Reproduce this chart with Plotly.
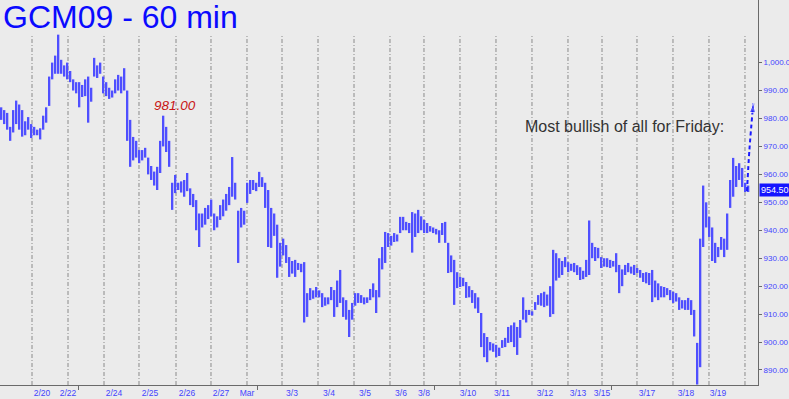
import numpy as np
import plotly.graph_objects as go

# ---- data: 60-minute bars (high / low) ----
highs = [
    984, 983, 982, 977, 983, 986.4, 985, 983, 979, 980.5, 978, 977,
    976, 976.5, 981, 984, 995, 1000, 1002.5, 1010, 1001, 999, 1000, 997,
    994, 993, 993, 992, 994, 995, 991, 1001.7, 999, 1000, 995, 993,
    991, 990, 994, 995.6, 995, 998, 990, 979.5, 973.4, 972, 968.7, 968.7,
    969.5, 966, 963, 961, 962.7, 972, 981, 977, 972, 957, 959.8, 957,
    957.5, 958, 960.5, 955, 953, 950.8, 946, 946, 948, 949, 951, 946,
    945, 949, 951, 953, 955.5, 966.2, 957, 947, 948, 947, 957, 958,
    958, 957, 960.9, 959, 957, 954.4, 948, 946, 942, 935.5, 937, 934.7,
    930.4, 929, 929.4, 928.3, 928, 928.6, 917.5, 919.3, 918.5, 919.7, 918.5, 917.5,
    916, 916, 919.7, 918.6, 922, 925.8, 916, 915, 911.5, 914, 917.5, 917.5,
    916.8, 916, 916, 919, 921, 918.6, 930, 934, 939.4, 939, 938, 939,
    938.5, 944.8, 944.8, 943, 942.6, 946.5, 946, 947.3, 945, 943.7, 942.6, 941.5,
    941, 940.5, 940, 942.6, 943, 935.5, 931, 929.4, 925, 923.3, 923, 921.5,
    920, 918.6, 917.5, 916, 910.4, 903.2, 901.8, 900, 899.5, 899, 898, 900.7,
    901.5, 905.4, 906, 907, 905.4, 907.9, 916, 911.5, 911.5, 911, 914.3, 916.8,
    917.5, 918, 917, 920, 933, 931.8, 930, 929, 930.4, 928.6, 928, 928.3,
    927.5, 926.8, 925.5, 929.4, 943.5, 935.5, 934, 933.7, 930.4, 930, 930, 929.4,
    929, 931.8, 927.6, 926, 927.6, 928.3, 927, 927.6, 926.5, 925.8, 924.7, 925,
    924.7, 925.8, 922, 921, 920, 919.7, 919.3, 918.6, 918, 917.5, 916, 915,
    915, 915.8, 915, 911.5, 899.7, 937, 956, 950, 944.8, 941, 935.5, 934,
    937.6, 937, 946, 958, 965.9, 963, 964, 962.3, 957, 956,
]
lows = [
    979.5, 978, 976, 972, 975, 978, 976, 973.5, 974, 976, 973, 974,
    974, 972.5, 976, 978.5, 984.5, 994, 996, 996, 996, 995, 994, 993,
    990, 989, 984, 987.7, 988, 978.5, 986, 995, 994.5, 996, 989, 988,
    987, 987.5, 989, 990, 989, 990, 972, 962.7, 965, 966, 964, 965,
    966, 960, 958, 956, 954.4, 960.5, 970, 968, 962.7, 947.3, 953.3, 954.4,
    953.5, 952, 954, 949, 948.3, 940, 934, 941, 942, 944, 945, 940,
    941, 943.7, 945, 947, 949, 952, 951, 928.3, 941, 942, 949.8, 953,
    954.4, 954, 955.5, 955.5, 948, 934, 933.7, 938, 923, 927, 931, 928.3,
    923.3, 924.5, 923.3, 925.8, 925, 907, 909, 915, 915.5, 916, 916, 912.5,
    913, 913.5, 915, 909, 912.5, 914, 909, 908, 901.8, 908, 913, 914,
    914, 913.5, 914, 915, 916, 910.4, 916, 926, 928.3, 934, 934.5, 935.8,
    936, 939, 940, 940, 939, 932, 937.6, 939, 940, 939, 939, 939.5,
    939, 938.5, 935.5, 938.3, 935.5, 924.7, 925, 913.3, 919.3, 919.7, 920, 915.8,
    916, 914, 912, 910.4, 898.2, 894.6, 892.8, 897, 896.5, 894.6, 895, 897.9,
    898.2, 899.7, 900, 898.2, 895.4, 901.5, 908, 907, 909.7, 909.5, 911.5, 913.3,
    913, 912.5, 913, 909, 910, 922, 923, 924, 926.8, 925, 925.5, 925,
    924, 922.2, 922.5, 923.3, 924, 930, 929, 930, 926.5, 927, 926.8, 926.5,
    927, 925, 917.5, 920, 924, 925, 924.5, 924, 924.7, 923, 921.5, 921,
    920.4, 914.3, 916, 915, 916, 916, 916.8, 915, 914, 914.5, 911.5, 912,
    911.5, 911.5, 909.7, 902, 884.8, 891, 934, 941, 937.6, 929, 928.3, 930.4,
    933, 930.4, 933, 948, 952, 955.5, 958, 955.5, 953.7, 953.7,
]
n = min(len(highs), len(lows))
highs = np.array(highs[:n], dtype=float)
lows = np.array(lows[:n], dtype=float)
bar_index = np.arange(n)

# session separators (bar index units) and week ticks
session_breaks = [10.17, 22.17, 34.17, 45.83, 58.17, 69.83, 81.83, 93.5, 105.5, 117.5,
                  129.5, 140.83, 152.83, 164.83, 176.83, 188.83, 200.17, 211.83,
                  223.83, 235.83, 247.83]
week_ticks = [25.5, 85.17, 144.5, 203.17]
date_labels = ["2/20", "2/22", "2/24", "2/25", "2/26", "2/27", "Mar", "3/3", "3/4", "3/5",
               "3/6", "3/8", "3/10", "3/11", "3/12", "3/13", "3/15", "3/17", "3/18", "3/19"]
date_pos = [13.5, 22.17, 37.5, 49.5, 61.83, 73.17, 81.83, 96.83, 109.17, 121.17,
            133.17, 140.83, 155.5, 166.83, 181.17, 192.17, 200.17, 215.17, 228.17, 238.83]
price_ticks = [890, 900, 910, 920, 930, 940, 950, 960, 970, 980, 990, 1000]

last_price = 954.50
peak_label = "981.00"
peak_label_pos = (57.8, 984.6)
note_text = "Most bullish of all for Friday:"
note_pos = (207.7, 977.0)
arrow_x = [248.5, 249.3, 250.6]
arrow_y = [954.0, 968.7, 985.5]

BG = "#ebebeb"
FONT = "Liberation Sans, Arial, sans-serif"
TICKBLUE = "#4444ff"

fig = go.Figure()
fig.add_trace(go.Bar(
    x=bar_index, y=highs - lows, base=lows, width=0.55,
    marker=dict(color="#4f4fff", line=dict(width=0)),
    hoverinfo="skip", showlegend=False,
))
fig.add_trace(go.Scatter(
    x=arrow_x, y=arrow_y, mode="lines+markers",
    line=dict(color="#1a1aff", width=2, dash="4px,3px", shape="spline"),
    marker=dict(symbol=["circle", "circle", "arrow"], size=[0, 0, 10],
                color="#1a1aff", angleref="previous"),
    hoverinfo="skip", showlegend=False,
))

shapes = []
for sb in session_breaks:
    shapes.append(dict(type="line", xref="x", yref="paper", x0=sb, x1=sb, y0=0, y1=0.909,
                       line=dict(color="#8a8a8a", width=1, dash="4px,2px,1px,2px"),
                       layer="below"))

annotations = [
    dict(text="GCM09 - 60 min", xref="paper", yref="paper", x=0, y=1, xanchor="left",
         yanchor="top", showarrow=False, xshift=1, yshift=3,
         font=dict(family=FONT, size=32, color="#0a0aff")),
    dict(text="<i>" + peak_label + "</i>", xref="x", yref="y", x=peak_label_pos[0],
         y=peak_label_pos[1], showarrow=False,
         font=dict(family=FONT, size=13.5, color="#c81414")),
    dict(text=note_text, xref="x", yref="y", x=note_pos[0], y=note_pos[1], showarrow=False,
         font=dict(family=FONT, size=16, color="#333333")),
    dict(text=f"{last_price:.2f}", xref="paper", yref="y", x=1, y=last_price,
         xanchor="left", showarrow=False, xshift=1, bgcolor="#1414ff", borderpad=1,
         font=dict(family=FONT, size=9, color="white")),
]

fig.update_layout(
    width=789, height=399,
    margin=dict(l=0, r=31, t=0, b=14, autoexpand=False),
    paper_bgcolor=BG, plot_bgcolor=BG,
    shapes=shapes, annotations=annotations,
    showlegend=False,
    xaxis=dict(range=[-0.5, 252.17], tickmode="array", tickvals=date_pos, ticktext=date_labels,
               ticks="", showgrid=False, zeroline=False, showline=True, linecolor="#6a6a6a",
               linewidth=1, automargin=False,
               tickfont=dict(family=FONT, size=8.5, color=TICKBLUE),
               minor=dict(tickmode="array", tickvals=week_ticks, ticks="outside", ticklen=4,
                          tickcolor="#6a6a6a", showgrid=False)),
    yaxis=dict(side="right", range=[884.63, 1022.4], tickmode="array", tickvals=price_ticks,
               tickformat=",.2f", ticks="outside", ticklen=3, tickcolor="#6a6a6a",
               showgrid=False, zeroline=False, showline=True, linecolor="#6a6a6a",
               linewidth=1, automargin=False,
               tickfont=dict(family=FONT, size=8, color=TICKBLUE)),
)

fig.write_html("out.html")
